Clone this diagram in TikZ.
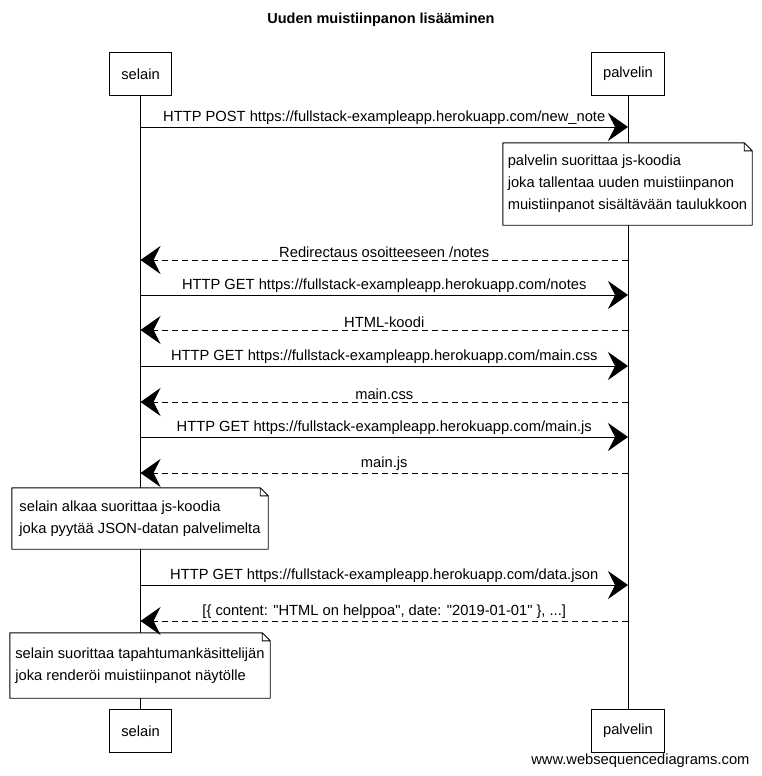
\documentclass[tikz,border=0pt]{standalone}
\usepackage{fontspec}
\setmainfont{Liberation Sans}[Ligatures=TeXOff]
\usetikzlibrary{arrows.meta,positioning}

\begin{document}
\begin{tikzpicture}[x=1pt, y=-1pt,
		font=\fontsize{14.7}{22}\selectfont,
		actor/.style = {draw, line width=0.9pt, minimum height=43pt, inner xsep=12pt, fill=white},
		note/.style  = {align=left, fill=white, inner sep=0pt},
		call/.style  = {line width=1pt, -{Stealth[length=20pt, width=28pt, inset=7pt]}},
		reply/.style = {call, dash pattern=on 6pt off 4pt},
		lbl/.style   = {above, inner sep=2pt, midway},
		>=latex]
		
		\useasboundingbox (0,0) rectangle (761,776);
		
		% title and watermark
		\node[font=\fontsize{14.5}{18}\selectfont\bfseries] (title) at (381,20) {Uuden muistiinpanon lisääminen};
		\node[anchor=east] (wsd) at (753,761) {www.websequencediagrams.com};
		
		% participants, top and bottom
		\node[actor] (selainTop) at (140.5,74) {selain};
		\node[actor] (palvelinTop) at (628,74) {palvelin};
		\node[actor] (selainBot) at (140.5,731) {selain};
		\node[actor] (palvelinBot) at (628,731) {palvelin};
		
		% lifelines
		\draw[line width=0.8pt] (selainTop) -- (selainBot);
		\draw[line width=0.8pt] (palvelinTop) -- (palvelinBot);
		
		% notes
		\node[note, minimum width=249pt, minimum height=82pt] (n1) at (627.5,184)
			{palvelin suorittaa js-koodia\\joka tallentaa uuden muistiinpanon\\muistiinpanot sisältävään taulukkoon};
		\node[note, minimum width=256pt, minimum height=61pt] (n2) at (140,518.5)
			{selain alkaa suorittaa js-koodia\\joka pyytää JSON-datan palvelimelta};
		\node[note, minimum width=260pt, minimum height=65pt] (n3) at (140,665.5)
			{selain suorittaa tapahtumankäsittelijän\\joka renderöi muistiinpanot näytölle};
		
		% note outlines with folded corner
		\foreach \n in {n1,n2,n3}
		\draw[line width=0.9pt, line join=round] (\n.north west) -- ([xshift=-8pt]\n.north east)
			-- ([yshift=-8pt]\n.north east) -- (\n.south east) -- (\n.south west) -- cycle
			([xshift=-8pt]\n.north east) -- ([xshift=-8pt, yshift=-8pt]\n.north east) -- ([yshift=-8pt]\n.north east);
		
		% request from selain to palvelin
		\draw[call] (selainTop |- 0,127) -- (palvelinTop |- 0,127)
			node[lbl] {HTTP POST https://fullstack-exampleapp.herokuapp.com/new\_note};
		
		\foreach \y/\file in {295/notes, 366/main.css, 437/main.js, 585/data.json}
		\draw[call] (selainTop |- 0,\y) -- (palvelinTop |- 0,\y)
			node[lbl] {HTTP GET https://fullstack-exampleapp.herokuapp.com/\file};
		
		% answers from palvelin to selain
		\foreach \y/\txt in {260/{Redirectaus osoitteeseen /notes}, 330/HTML-koodi, 402/main.css, 473/main.js}
		\draw[reply] (palvelinTop |- 0,\y) -- (selainTop |- 0,\y)
			node[lbl] {\txt};
		
		\draw[reply] (palvelinTop |- 0,621) -- (selainTop |- 0,621)
			node[lbl] {[\{ content: "HTML on helppoa", date: "2019-01-01" \}, ...]};
		
\end{tikzpicture}
\end{document}
